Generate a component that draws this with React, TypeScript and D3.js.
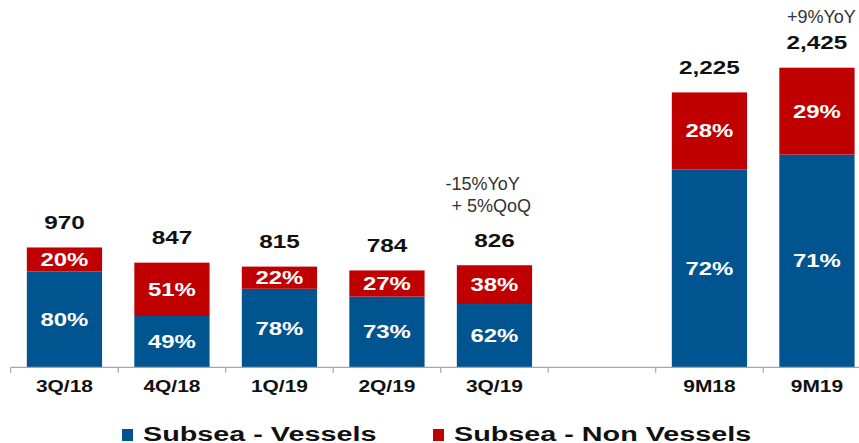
import React from "react";
import * as d3 from "d3";

const categories = ["3Q/18", "4Q/18", "1Q/19", "2Q/19", "3Q/19", "", "9M18", "9M19"];
const totals = [970, 847, 815, 784, 826, null, 2225, 2425];
const vesselsPct = [80, 49, 78, 73, 62, null, 72, 71];
const nonVesselsPct = [20, 51, 22, 27, 38, null, 28, 29];
const noteCats = ["3Q/19", "9M19"];
const noteLines = [["-15%YoY", "+ 5%QoQ"], ["+9%YoY"]];
const seriesNames = ["Subsea - Vessels", "Subsea - Non Vessels"];
const colors = ["#00548F", "#C00000"];

// layout (pixel offsets of the annotation lines relative to the bar centre / bar top)
const noteLayout = [
  { dx: [-49, -43], dy: [-75, -53] },
  { dx: [-30], dy: [-45] },
];

const W = 859;
const H = 443;

export default function App() {
  const keys = categories.map((c, i) => (c === "" ? `blank${i}` : c));
  const x = d3.scaleBand<string>().domain(keys).range([10.7, 10.7 + 8 * 107.5]).padding(0);
  const y = d3.scaleLinear().domain([0, 2973]).range([367.3, 0]);
  const barW = x.bandwidth() * 0.7;
  const font = "'Liberation Sans', Arial, sans-serif";
  const fmt = d3.format(",");

  const stretched = (
    key: string,
    cx: number,
    cy: number,
    text: string,
    size: number,
    fill: string,
    sx: number
  ) => (
    <text
      key={key}
      transform={`translate(${cx},${cy}) scale(${sx},1)`}
      textAnchor="middle"
      fontFamily={font}
      fontWeight="bold"
      fontSize={size}
      fill={fill}
    >
      {text}
    </text>
  );

  const y0 = y(0);
  const ticks = [...keys.map((k) => x(k)!), x(keys[keys.length - 1])! + x.bandwidth()];

  return (
    <svg width={W} height={H} style={{ position: "absolute", left: 0, top: 0, background: "#fff" }}>
      {keys.map((k, i) => {
        const t = totals[i];
        if (t == null) return null;
        const cx = x(k)! + x.bandwidth() / 2;
        const vVal = (t * vesselsPct[i]!) / 100;
        const yTop = y(t);
        const ySplit = y(vVal);
        return (
          <g key={k}>
            <rect x={cx - barW / 2} y={ySplit} width={barW} height={y0 - ySplit} fill={colors[0]} />
            <rect x={cx - barW / 2} y={yTop} width={barW} height={ySplit - yTop} fill={colors[1]} />
            {stretched(k + "v", cx, (ySplit + y0) / 2 + 6.5, `${vesselsPct[i]}%`, 18, "#fff", 1.33)}
            {stretched(k + "n", cx, (yTop + ySplit) / 2 + 6.5, `${nonVesselsPct[i]}%`, 18, "#fff", 1.33)}
            {stretched(k + "t", cx, yTop - 18.5, fmt(t), 18, "#111", 1.35)}
          </g>
        );
      })}
      {noteCats.map((cat, ni) => {
        const i = categories.indexOf(cat);
        const t = totals[i]!;
        const cx = x(keys[i])! + x.bandwidth() / 2;
        const yTop = y(t);
        return (
          <text key={cat} fontFamily={font} fontSize={18} fill="#333">
            {noteLines[ni].map((l, j) => (
              <tspan key={j} x={cx + noteLayout[ni].dx[j]} y={yTop + noteLayout[ni].dy[j]}>
                {l}
              </tspan>
            ))}
          </text>
        );
      })}
      <line x1={ticks[0]} x2={W + 20} y1={y0} y2={y0} stroke="#a6a6a6" strokeWidth={1.2} />
      {ticks.map((tx, i) => (
        <line key={i} x1={tx} x2={tx} y1={y0} y2={y0 + 5.5} stroke="#a6a6a6" strokeWidth={1.2} />
      ))}
      {keys.map((k, i) =>
        categories[i] === ""
          ? null
          : stretched("ax" + k, x(k)! + x.bandwidth() / 2, 392, categories[i], 16.5, "#111", 1.27)
      )}
      {seriesNames.map((s, i) => {
        const sqX = i === 0 ? 122 : 433;
        return (
          <g key={s}>
            <rect x={sqX} y={429} width={11} height={12} fill={colors[i]} />
            <text
              transform={`translate(${sqX + 21},440.5) scale(1.37,1)`}
              fontFamily={font}
              fontWeight="bold"
              fontSize={21}
              fill="#111"
            >
              {s}
            </text>
          </g>
        );
      })}
    </svg>
  );
}
